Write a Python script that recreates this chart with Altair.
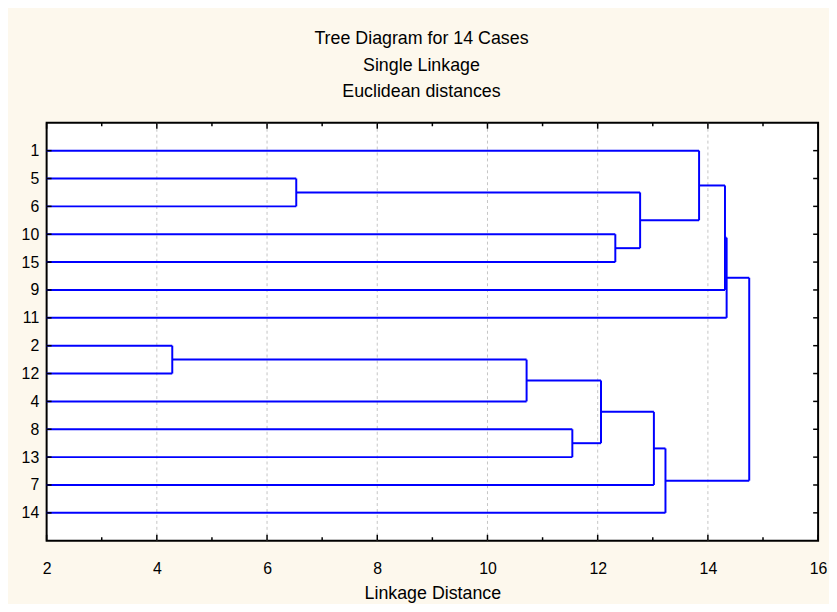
import altair as alt
import pandas as pd

# ---- data ----
leaves = ["1", "5", "6", "10", "15", "9", "11", "2", "12", "4", "8", "13", "7", "14"]
# merges in order; "M<k>" refers to the k-th merge (1-based)
merge_a = ["5", "10", "M1", "1", "M4", "M5", "2", "M7", "8", "M8", "M10", "M11", "M6"]
merge_b = ["6", "15", "M2", "M3", "9", "11", "12", "4", "13", "M9", "7", "14", "M12"]
merge_height = [6.53, 12.32, 12.77, 13.84, 14.31, 14.34, 4.28, 10.71, 11.54, 12.06, 13.02, 13.23, 14.75]
x_major = [2, 4, 6, 8, 10, 12, 14, 16]
x_minor = [3, 5, 7, 9, 11, 13, 15]
x_min = 2

titles = ["Tree Diagram for 14 Cases", "Single Linkage", "Euclidean distances"]
x_title = "Linkage Distance"

# ---- build dendrogram segments ----
pos = {leaf: (i + 1, x_min) for i, leaf in enumerate(leaves)}
segs = []
for k, (a, b, h) in enumerate(zip(merge_a, merge_b, merge_height)):
    ya, ha = pos[a]
    yb, hb = pos[b]
    segs.append(dict(x=ha, x2=h, y=ya, y2=ya))
    segs.append(dict(x=hb, x2=h, y=yb, y2=yb))
    segs.append(dict(x=h, x2=h, y=ya, y2=yb))
    pos[f"M{k + 1}"] = ((ya + yb) / 2, h)
seg_df = pd.DataFrame(segs)

W, H = 779, 422
FONT = "Liberation Sans"
xs = alt.Scale(domain=[2, 16], nice=False, zero=False)
ys = alt.Scale(domain=[0, 15], reverse=True, nice=False, zero=False)

label_expr = "[" + ",".join(f"'{l}'" for l in leaves) + "][datum.value - 1]"

x_axis = alt.Axis(values=x_major, title=x_title, grid=False, ticks=False, domain=False,
                  labelFontSize=16, labelPadding=20, labelFlush=False, labelOverlap=False,
                  labelColor="black", titleColor="black", titleFontSize=18,
                  titleFontWeight="normal", titlePadding=8, labelFont=FONT, titleFont=FONT)
y_axis = alt.Axis(values=list(range(1, len(leaves) + 1)), labelExpr=label_expr, title=None,
                  grid=False, ticks=False, domain=False, labelFontSize=16, labelPadding=8,
                  labelColor="black", labelFont=FONT, labelOverlap=False)

grid = alt.Chart(pd.DataFrame({"v": x_major[1:-1]})).mark_rule(
    color="#C4C4C4", strokeDash=[3, 3], strokeWidth=1
).encode(x=alt.X("v:Q", scale=xs, axis=x_axis))

dend = alt.Chart(seg_df).mark_rule(color="#0000FF", strokeWidth=2).encode(
    x=alt.X("x:Q", scale=xs, axis=x_axis),
    x2="x2:Q",
    y=alt.Y("y:Q", scale=ys, axis=y_axis),
    y2="y2:Q",
)

tick_major = pd.DataFrame({"v": x_major})
tick_minor = pd.DataFrame({"v": x_minor})
rows = pd.DataFrame({"r": list(range(1, len(leaves) + 1))})


def xt(df, y0, y1):
    return alt.Chart(df).mark_rule(color="black", strokeWidth=1.5).encode(
        x=alt.X("v:Q", scale=xs, axis=x_axis), y=alt.value(y0), y2=alt.value(y1))


def yt(x0, x1):
    return alt.Chart(rows).mark_rule(color="black", strokeWidth=1.5).encode(
        y=alt.Y("r:Q", scale=ys, axis=y_axis), x=alt.value(x0), x2=alt.value(x1))


chart = alt.layer(
    grid, dend,
    xt(tick_major, H, H - 6), xt(tick_minor, H, H - 3.5),
    xt(tick_major, 0, 6), xt(tick_minor, 0, 3.5),
    yt(0, 5), yt(W, W - 5),
).properties(
    width=W, height=H,
    autosize=alt.AutoSizeParams(type="none"),
    padding={"left": 39, "top": 113, "right": 11, "bottom": 61},
    title=alt.TitleParams(text=titles, fontSize=18, font=FONT, fontWeight="normal",
                          color="black", lineHeight=26.7, anchor="middle", offset=21, dx=-11),
).configure(
    background="#FDF8ED", font=FONT
).configure_view(stroke="black", strokeWidth=2, fill="white")

chart.save("out.html", embed_options={"renderer": "svg", "actions": False})
